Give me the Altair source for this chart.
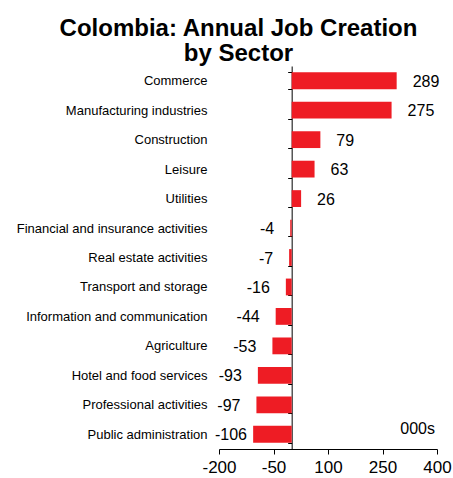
import altair as alt
import pandas as pd

sectors = [
    "Commerce",
    "Manufacturing industries",
    "Construction",
    "Leisure",
    "Utilities",
    "Financial and insurance activities",
    "Real estate activities",
    "Transport and storage",
    "Information and communication",
    "Agriculture",
    "Hotel and food services",
    "Professional activities",
    "Public administration",
]
values = [289, 275, 79, 63, 26, -4, -7, -16, -44, -53, -93, -97, -106]
x_ticks = [-200, -50, 100, 250, 400]
unit_note = "000s"
title_lines = ["Colombia: Annual Job Creation", "by Sector"]

df = pd.DataFrame({"sector": sectors, "value": values})

W, H = 218, 383
x_min, x_max = x_ticks[0], x_ticks[-1]
px_per_unit = W / (x_max - x_min)
zero_offset = (0 - x_min) * px_per_unit

FONT = "Liberation Sans"
RED = "#EE1C24"
VAL_SIZE = 16
GAP = 16

xscale = alt.Scale(domain=[x_min, x_max], nice=False, zero=False)
yscale = alt.Scale(paddingInner=0.43, paddingOuter=0.215)

x_axis = alt.Axis(
    values=x_ticks,
    title=None,
    grid=False,
    domainColor="black",
    tickColor="black",
    tickSize=5,
    labelFontSize=17,
    labelFont=FONT,
    labelColor="black",
    labelPadding=5,
    labelFlush=False,
    labelOverlap=False,
    labelExpr="replace(datum.label, '\u2212', '-')",
)
y_axis = alt.Axis(
    title=None,
    offset=-zero_offset,
    tickBand="extent",
    tickSize=4,
    tickColor="black",
    domainColor="black",
    labelPadding=zero_offset + 12 - 4,
    labelFontSize=13,
    labelFont=FONT,
    labelColor="black",
    labelLimit=400,
    grid=False,
)

X = alt.X("value:Q", scale=xscale, axis=x_axis)
Xlab = alt.X("lpos:Q", scale=xscale, axis=x_axis)
Y = alt.Y("sector:N", sort=sectors, scale=yscale, axis=y_axis)

# negative value labels are kept inside the plot area (approximate text width)
base = alt.Chart(df).transform_calculate(
    label="(datum.value < 0 ? '-' : '') + abs(datum.value)",
).transform_calculate(
    textw=f"(length(datum.label) - (datum.value < 0 ? 1 : 0)) * {0.556 * VAL_SIZE} + (datum.value < 0 ? {0.333 * VAL_SIZE} : 0)",
).transform_calculate(
    lpos=f"datum.value < 0 ? max(datum.value, {x_min} + ({GAP} + datum.textw - 4) / {px_per_unit}) : datum.value",
)

bars = base.mark_bar(color=RED).encode(x=X, y=Y)

pos = base.transform_filter("datum.value >= 0").mark_text(
    align="left", baseline="middle", dx=GAP, dy=1, fontSize=VAL_SIZE, font=FONT, color="black"
).encode(x=Xlab, y=Y, text="label:N")

neg = base.transform_filter("datum.value < 0").mark_text(
    align="right", baseline="middle", dx=-GAP, dy=1, fontSize=VAL_SIZE, font=FONT, color="black"
).encode(x=Xlab, y=Y, text="label:N")

note = alt.Chart(pd.DataFrame({"note": [unit_note]})).mark_text(
    align="right", baseline="alphabetic", fontSize=16, font=FONT, color="black"
).encode(
    x=alt.value(W - 2),
    y=alt.value(H - 15.5),
    text="note:N",
)

chart = alt.layer(bars, pos, neg, note).properties(
    width=W,
    height=H,
    title=alt.TitleParams(
        text=title_lines,
        fontSize=24,
        font=FONT,
        fontWeight="bold",
        color="black",
        anchor="middle",
        frame="group",
        dx=-89.5,
        lineHeight=25,
        offset=-6,
    ),
    autosize=alt.AutoSizeParams(type="none"),
    padding={"left": 219, "top": 66, "right": 16, "bottom": 29},
).configure_view(stroke=None)

chart.save("out.html", embed_options={"renderer": "svg", "actions": False})
